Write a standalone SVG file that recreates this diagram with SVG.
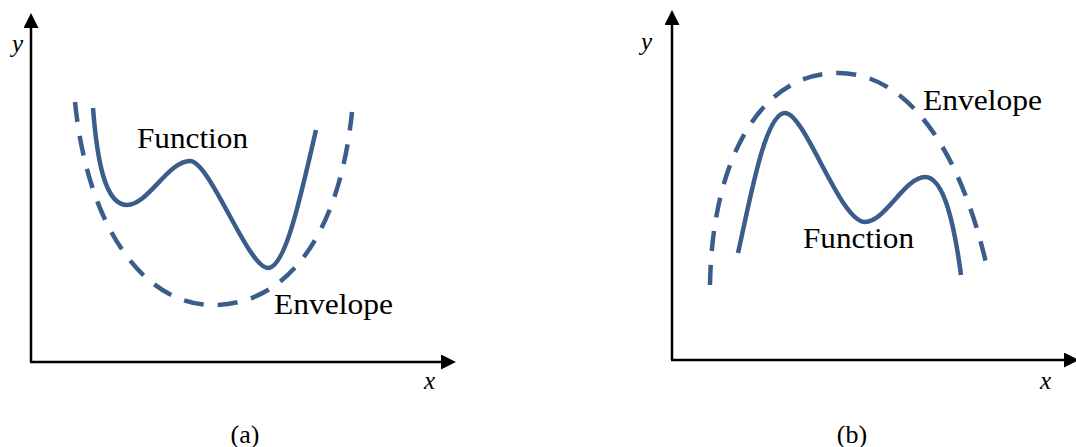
<svg xmlns="http://www.w3.org/2000/svg" width="1076" height="447" viewBox="0 0 1076 447">
<style>
.axis{fill:none;stroke:#000;stroke-width:2.5;marker-end:url(#arr)}
.fn{fill:none;stroke:#3b5d8c;stroke-width:4.5;stroke-linecap:butt}
.env{fill:none;stroke:#3b5d8c;stroke-width:4.5;stroke-dasharray:20 14}
.lbl{font-size:30px}
.var{font-size:25px;font-style:italic}
.cap{font-size:26px}
</style>
<defs>
<marker id="arr" markerUnits="userSpaceOnUse" markerWidth="15" markerHeight="15" refX="0" refY="7.5" orient="auto" viewBox="0 0 15 15">
<path d="M0,0 L15,7.5 L0,15 Z" fill="#000"/>
</marker>
</defs>
<g font-family="'Liberation Serif', 'Times New Roman', Times, serif" fill="#000">
<g id="panel-a">
<g id="axes-a">
<path class="axis" d="M31,362 L31,28"/>
<path class="axis" d="M30,362 L441,362"/>
<text class="var" x="12" y="52">y</text>
<text class="var" x="424" y="389">x</text>
</g>
<g id="function-a">
<path class="fn" d="M93,108 C97,160 105,205 127,205 C148,205 168,161 190,161 C210,161 248,268 268,268 C285,268 300,200 316,130"/>
<text class="lbl" x="137" y="148" textLength="111" lengthAdjust="spacingAndGlyphs">Function</text>
</g>
<g id="envelope-a">
<path class="env" d="M75,102 C88,230 145,305 213,305 C290,305 340,230 352,112"/>
<text class="lbl" x="274" y="314" textLength="119" lengthAdjust="spacingAndGlyphs">Envelope</text>
</g>
<text class="cap" x="245" y="443" text-anchor="middle">(a)</text>
</g>
<g id="panel-b">
<g id="axes-b">
<path class="axis" d="M672,360 L672,25"/>
<path class="axis" d="M671,360 L1064,360"/>
<text class="var" x="641" y="50">y</text>
<text class="var" x="1040" y="389">x</text>
</g>
<g id="function-b">
<path class="fn" d="M738,253 C750,200 765,113 785,113 C805,113 840,222 865,222 C885,222 905,177 925,177 C945,177 955,230 961,275"/>
<text class="lbl" x="803" y="248" textLength="111" lengthAdjust="spacingAndGlyphs">Function</text>
</g>
<g id="envelope-b">
<path class="env" d="M710,285 C712,160 760,73 838,73 C915,73 965,165 988,272"/>
<text class="lbl" x="923" y="110" textLength="119" lengthAdjust="spacingAndGlyphs">Envelope</text>
</g>
<text class="cap" x="852" y="443" text-anchor="middle">(b)</text>
</g>
</g>
</svg>
